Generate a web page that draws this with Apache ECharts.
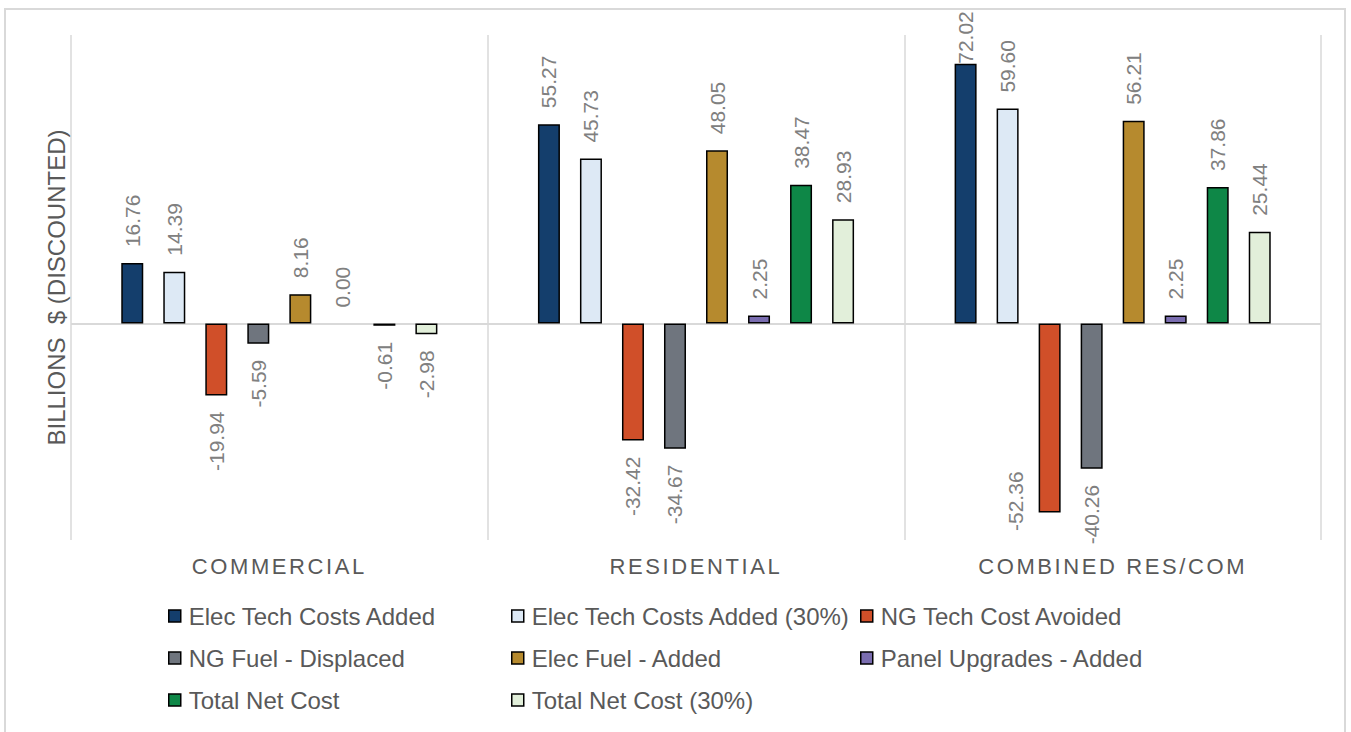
<!DOCTYPE html>
<html><head><meta charset="utf-8">
<script src="https://cdn.jsdelivr.net/npm/echarts@6/dist/echarts.min.js"></script>
<style>html,body{margin:0;padding:0;background:#fff}#c{width:1351px;height:732px}</style>
</head><body><div id="c"></div>
<script>
const categories = ['COMMERCIAL', 'RESIDENTIAL', 'COMBINED RES/COM'];
const seriesNames = ['Elec Tech Costs Added', 'Elec Tech Costs Added (30%)', 'NG Tech Cost Avoided',
  'NG Fuel - Displaced', 'Elec Fuel - Added', 'Panel Upgrades - Added', 'Total Net Cost', 'Total Net Cost (30%)'];
const elecTechCostsAdded   = [16.76, 55.27, 72.02];
const elecTechCostsAdded30 = [14.39, 45.73, 59.60];
const ngTechCostAvoided    = [-19.94, -32.42, -52.36];
const ngFuelDisplaced      = [-5.59, -34.67, -40.26];
const elecFuelAdded        = [8.16, 48.05, 56.21];
const panelUpgradesAdded   = [0.00, 2.25, 2.25];
const totalNetCost         = [-0.61, 38.47, 37.86];
const totalNetCost30       = [-2.98, 28.93, 25.44];
const seriesValues = [elecTechCostsAdded, elecTechCostsAdded30, ngTechCostAvoided, ngFuelDisplaced,
  elecFuelAdded, panelUpgradesAdded, totalNetCost, totalNetCost30];
const colors = ['#143e6c', '#dde9f5', '#d04f29', '#6f757e', '#b68a2e', '#7a6db0', '#0e8747', '#e2efda'];

const FONT = '"Liberation Sans", Arial, sans-serif';
const labelColor = '#808080';

// label placement adjustments (style only); offset is in the rotated label frame
const labelDistanceTweaks = { '0|2': 0 };
const labelOffsetTweaks = { '2|2': [57, -34] };

const series = seriesNames.map((name, si) => ({
  name: name,
  type: 'bar',
  barWidth: 22,
  barGap: '91%',
  itemStyle: { color: colors[si], borderColor: '#000', borderWidth: 1.5 },
  label: {
    show: true, rotate: 90, fontSize: 21, fontFamily: FONT, color: labelColor,
    formatter: p => p.value.toFixed(2), distance: 16
  },
  data: seriesValues[si].map((v, ci) => {
    const neg = v < 0;
    const key = si + '|' + ci;
    const lbl = {
      position: neg ? 'bottom' : 'top',
      align: neg ? 'right' : 'left',
      verticalAlign: 'middle'
    };
    if (key in labelDistanceTweaks) lbl.distance = labelDistanceTweaks[key];
    if (labelOffsetTweaks[key]) lbl.offset = labelOffsetTweaks[key];
    const item = { value: v, label: lbl };
    if (v === 0) item.itemStyle = { borderWidth: 0 };
    return item;
  }),
  markLine: si === 0 ? {
    silent: true, symbol: 'none', label: { show: false },
    lineStyle: { color: '#d9d9d9', type: 'solid', width: 2 },
    data: [{ yAxis: 0 }], z: 1
  } : undefined
}));

const legendText = { fontSize: 24, color: '#595959', fontFamily: FONT, padding: [0, 0, 0, 3] };
const legendBase = {
  orient: 'vertical', top: 599, itemGap: 18, itemWidth: 12, itemHeight: 12, icon: 'rect',
  itemStyle: { borderColor: '#000', borderWidth: 1.5 }, textStyle: legendText, selectedMode: false
};

const chart = echarts.init(document.getElementById('c'), null, { renderer: 'svg' });
chart.setOption({
  animation: false,
  backgroundColor: '#fff',
  grid: { left: 71, right: 30, top: 35, bottom: 192, containLabel: false },
  xAxis: {
    type: 'category', data: categories,
    axisLine: { show: false }, axisTick: { show: false },
    axisLabel: { fontSize: 22, color: '#595959', fontFamily: FONT, margin: 15 },
    splitLine: { show: true, lineStyle: { color: '#d9d9d9', width: 1.5 } }
  },
  yAxis: {
    type: 'value', min: -60, max: 80, interval: 20,
    axisLine: { show: false }, axisTick: { show: false }, axisLabel: { show: false },
    splitLine: { show: false },
    name: 'BILLIONS  $ (DISCOUNTED)', nameLocation: 'middle', nameRotate: 90, nameGap: 3,
    nameTextStyle: { fontSize: 24, color: '#595959', fontFamily: FONT }
  },
  legend: [
    Object.assign({ left: 163, data: [seriesNames[0], seriesNames[3], seriesNames[6]] }, legendBase),
    Object.assign({ left: 506, data: [seriesNames[1], seriesNames[4], seriesNames[7]] }, legendBase),
    Object.assign({ left: 855, data: [seriesNames[2], seriesNames[5]] }, legendBase)
  ],
  graphic: [{
    type: 'rect', silent: true, z: -10,
    shape: { x: 5, y: 9, width: 1340, height: 800 },
    style: { fill: 'none', stroke: '#d9d9d9', lineWidth: 2 }
  }],
  series: series
});

// spaced capitals for the category labels, as in the original
function spaceCategoryLabels() {
  document.querySelectorAll('#c svg text').forEach(t => {
    if (categories.indexOf(t.textContent) >= 0) {
      t.style.letterSpacing = '2.6px';
    }
  });
}
spaceCategoryLabels();
chart.on('finished', spaceCategoryLabels);
</script>
</body></html>
